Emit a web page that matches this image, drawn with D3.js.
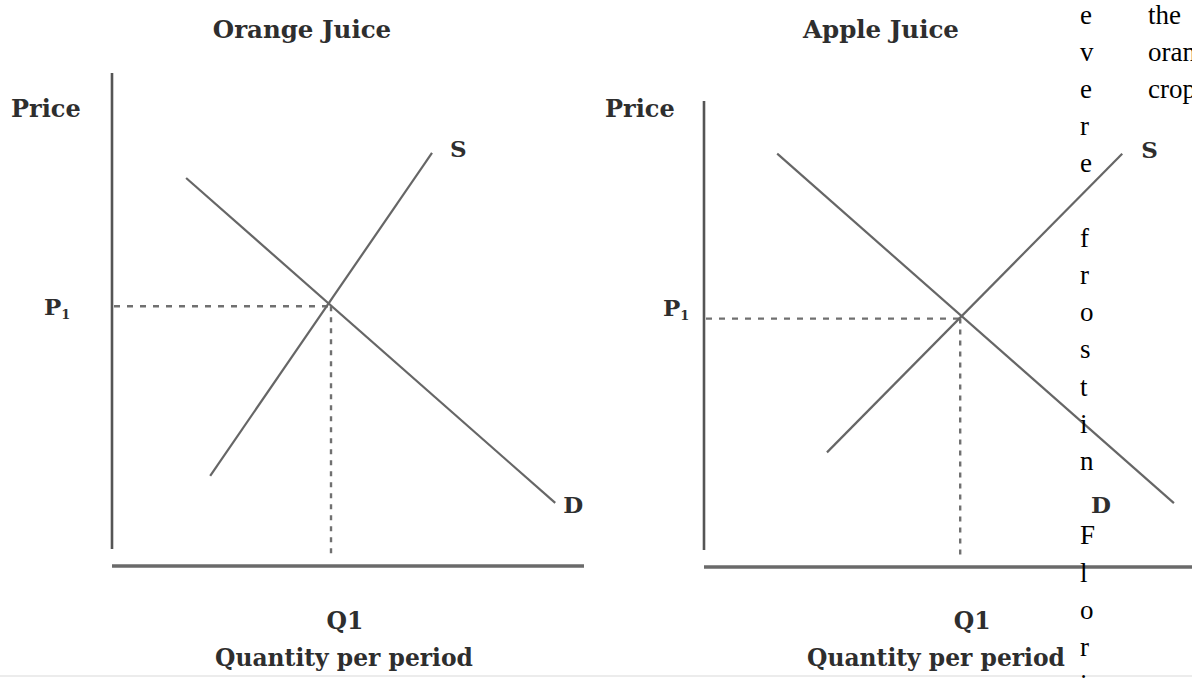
<!DOCTYPE html>
<html>
<head>
<meta charset="utf-8">
<script src="https://cdn.jsdelivr.net/npm/d3@7"></script>
<style>
  html, body { margin: 0; padding: 0; background: #fff; overflow: hidden; }
  .lbl { font-family: "DejaVu Serif", serif; font-weight: bold; fill: #2e2e2e; }
  .overlay { font-family: "Liberation Serif", "Times New Roman", serif; fill: #000; font-size: 27px; }
</style>
</head>
<body>
<div id="chart"></div>
<script>
  // data (quantity, price in axis units 0-10)
  const panelTitles = ["Orange Juice", "Apple Juice"];
  const demandLines = [
    [[1.57, 7.87], [9.39, 1.28]],
    [[1.50, 8.87], [9.63, 1.37]]
  ];
  const supplyLines = [
    [[2.08, 1.83], [6.78, 8.38]],
    [[2.52, 2.46], [8.57, 8.87]]
  ];
  const equilibria = [[4.64, 5.27], [5.25, 5.33]];
  const priceLabel = "Price";
  const quantityLabel = "Quantity per period";
  const qTick = "Q1";
  const pTick = ["P", "1"];
  const curveNames = ["S", "D"];

  // stray text from the source page
  const overlayLetters = ["e", "v", "e", "r", "e", "", "f", "r", "o", "s", "t", "i", "n", "", "F", "l", "o", "r", "i"];
  const overlayWords = ["the", "oran", "crop"];

  const width = 1192;
  const height = 678;

  // layout per panel
  const frames = [
    { x0: 112, x1: 584, y0: 566, y1: 73, titleX: 302, priceX: 11, pX: 44, pDy: 9, qDx: 14, qpX: 344, sDx: 18, sDy: 4, dDx: 8, dDy: 10 },
    { x0: 704, x1: 1192, y0: 567, y1: 101, titleX: 881, priceX: 605, pX: 663, pDy: -3, qDx: 12, qpX: 936, sDx: 19, sDy: 4, dDx: -83, dDy: 10 }
  ];

  const svg = d3.select("#chart")
    .append("svg")
    .attr("width", width)
    .attr("height", height);

  svg.append("line")
    .attr("x1", 0).attr("x2", width)
    .attr("y1", 676).attr("y2", 676)
    .attr("stroke", "#ececec")
    .attr("stroke-width", 2);

  frames.forEach((f, i) => {
    const x = d3.scaleLinear().domain([0, 10]).range([f.x0, f.x1]);
    const y = d3.scaleLinear().domain([0, 10]).range([f.y0, f.y1]);
    const g = svg.append("g");

    // axes
    g.append("line")
      .attr("x1", x(0)).attr("x2", x(0))
      .attr("y1", y(10)).attr("y2", f.y0 - 17)
      .attr("stroke", "#555")
      .attr("stroke-width", 2.6);

    g.append("line")
      .attr("x1", x(0)).attr("x2", x(10))
      .attr("y1", y(0)).attr("y2", y(0))
      .attr("stroke", "#6a6a6a")
      .attr("stroke-width", 3.6);

    // dashed guides
    const [eq, ep] = equilibria[i];
    g.append("line")
      .attr("x1", x(0) + 2).attr("x2", x(eq))
      .attr("y1", y(ep)).attr("y2", y(ep))
      .attr("stroke", "#707070")
      .attr("stroke-width", 2.4)
      .attr("stroke-dasharray", "6,7");

    g.append("line")
      .attr("x1", x(eq)).attr("x2", x(eq))
      .attr("y1", y(ep)).attr("y2", f.y0 - 8)
      .attr("stroke", "#707070")
      .attr("stroke-width", 2.4)
      .attr("stroke-dasharray", "5,6");

    // curves
    const line = d3.line().x(d => x(d[0])).y(d => y(d[1]));
    [demandLines[i], supplyLines[i]].forEach(pts => {
      g.append("path")
        .attr("d", line(pts))
        .attr("fill", "none")
        .attr("stroke", "#666")
        .attr("stroke-width", 2.2);
    });

    const sTop = supplyLines[i][1];
    const dEnd = demandLines[i][1];

    g.append("text").attr("class", "lbl")
      .attr("x", x(sTop[0]) + f.sDx).attr("y", y(sTop[1]) + f.sDy)
      .attr("font-size", 23)
      .text(curveNames[0]);

    g.append("text").attr("class", "lbl")
      .attr("x", x(dEnd[0]) + f.dDx).attr("y", y(dEnd[1]) + f.dDy)
      .attr("font-size", 23)
      .text(curveNames[1]);

    // text labels
    g.append("text").attr("class", "lbl")
      .attr("x", f.titleX).attr("y", 38)
      .attr("text-anchor", "middle")
      .attr("font-size", 24.5)
      .text(panelTitles[i]);

    g.append("text").attr("class", "lbl")
      .attr("x", f.priceX).attr("y", 117)
      .attr("font-size", 24)
      .text(priceLabel);

    const pt = g.append("text").attr("class", "lbl")
      .attr("x", f.pX).attr("y", y(ep) + f.pDy)
      .attr("font-size", 23);
    pt.append("tspan").text(pTick[0]);
    pt.append("tspan").attr("font-size", 13).attr("dy", 4).text(pTick[1]);

    g.append("text").attr("class", "lbl")
      .attr("x", x(eq) + f.qDx).attr("y", 629)
      .attr("text-anchor", "middle")
      .attr("font-size", 23.5)
      .text(qTick);

    g.append("text").attr("class", "lbl")
      .attr("x", f.qpX).attr("y", 666)
      .attr("text-anchor", "middle")
      .attr("font-size", 23.4)
      .text(quantityLabel);
  });

  // overlay text column
  svg.append("g")
    .selectAll("text")
    .data(overlayLetters)
    .enter()
    .append("text")
    .attr("class", "overlay")
    .attr("x", 1080)
    .attr("y", (d, i) => 23.5 + i * 37.2)
    .text(d => d);

  svg.append("g")
    .selectAll("text")
    .data(overlayWords)
    .enter()
    .append("text")
    .attr("class", "overlay")
    .attr("x", 1148)
    .attr("y", (d, i) => 23.5 + i * 37.2)
    .text(d => d);
</script>
</body>
</html>
